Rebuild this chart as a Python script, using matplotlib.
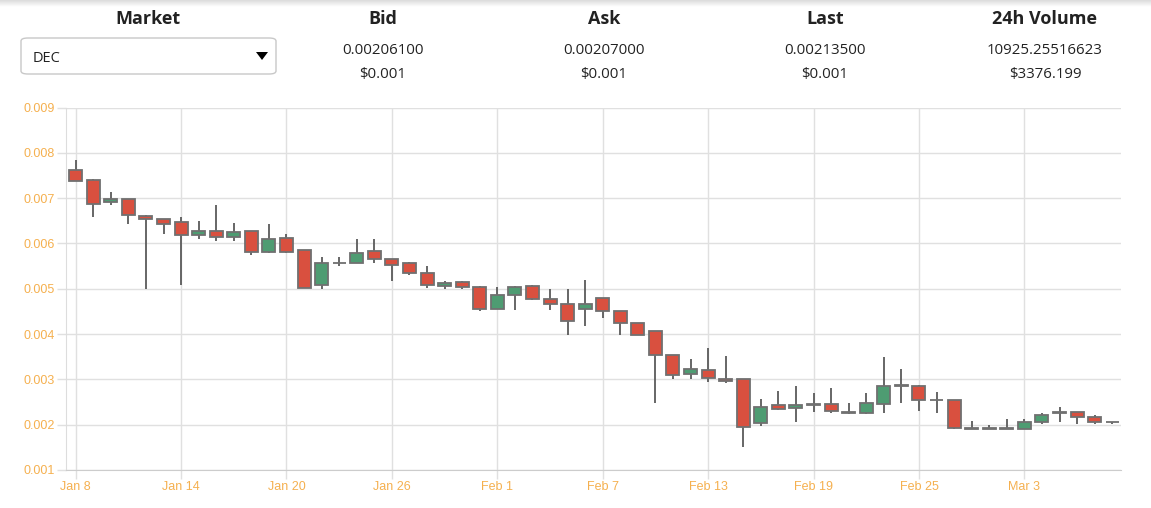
import numpy as np
import pandas as pd
import matplotlib
matplotlib.use('Agg')
import matplotlib.pyplot as plt
from matplotlib.patches import FancyBboxPatch, Polygon

# daily candles, Jan 8 .. Mar 8
start_day = '2018-01-08'
opens = [0.00763, 0.00740, 0.00692, 0.00698, 0.00661, 0.00654, 0.00647, 0.00618, 0.00628, 0.00615,
         0.00628, 0.00581, 0.00612, 0.00585, 0.00508, 0.00556, 0.00557, 0.00584, 0.00565, 0.00558,
         0.00534, 0.00507, 0.00514, 0.00504, 0.00456, 0.00486, 0.00506, 0.00478, 0.00467, 0.00456,
         0.00479, 0.00450, 0.00424, 0.00406, 0.00353, 0.00311, 0.00320, 0.00300, 0.00301, 0.00204,
         0.00243, 0.00237, 0.00243, 0.00246, 0.00229, 0.00225, 0.00246, 0.00286, 0.00286, 0.00255,
         0.00254, 0.00192, 0.00193, 0.00191, 0.00191, 0.00207, 0.00226, 0.00227, 0.00218, 0.00207]
closes = [0.00739, 0.00687, 0.00698, 0.00662, 0.00653, 0.00643, 0.00618, 0.00627, 0.00615, 0.00625,
          0.00581, 0.00610, 0.00581, 0.00502, 0.00557, 0.00557, 0.00580, 0.00565, 0.00553, 0.00534,
          0.00508, 0.00513, 0.00503, 0.00455, 0.00486, 0.00505, 0.00477, 0.00467, 0.00428, 0.00467,
          0.00451, 0.00424, 0.00397, 0.00354, 0.00310, 0.00322, 0.00303, 0.00297, 0.00194, 0.00239,
          0.00235, 0.00244, 0.00246, 0.00230, 0.00225, 0.00247, 0.00286, 0.00286, 0.00254, 0.00254,
          0.00192, 0.00191, 0.00190, 0.00193, 0.00207, 0.00221, 0.00226, 0.00217, 0.00205, 0.00205]
highs = [0.00784, 0.00742, 0.00713, 0.00698, 0.00662, 0.00655, 0.00659, 0.00650, 0.00684, 0.00645,
         0.00628, 0.00643, 0.00621, 0.00585, 0.00570, 0.00570, 0.00611, 0.00610, 0.00566, 0.00559,
         0.00550, 0.00518, 0.00518, 0.00507, 0.00505, 0.00506, 0.00509, 0.00500, 0.00500, 0.00520,
         0.00480, 0.00451, 0.00425, 0.00406, 0.00354, 0.00344, 0.00370, 0.00351, 0.00301, 0.00257,
         0.00275, 0.00286, 0.00269, 0.00280, 0.00249, 0.00270, 0.00350, 0.00324, 0.00287, 0.00272,
         0.00254, 0.00209, 0.00199, 0.00213, 0.00213, 0.00226, 0.00239, 0.00228, 0.00221, 0.00207]
lows = [0.00737, 0.00659, 0.00685, 0.00644, 0.00500, 0.00620, 0.00508, 0.00609, 0.00606, 0.00605,
        0.00575, 0.00580, 0.00580, 0.00501, 0.00500, 0.00550, 0.00556, 0.00558, 0.00518, 0.00530,
        0.00502, 0.00500, 0.00500, 0.00450, 0.00455, 0.00453, 0.00476, 0.00454, 0.00397, 0.00417,
        0.00436, 0.00397, 0.00397, 0.00247, 0.00300, 0.00300, 0.00295, 0.00292, 0.00150, 0.00197,
        0.00233, 0.00205, 0.00228, 0.00225, 0.00224, 0.00224, 0.00226, 0.00249, 0.00230, 0.00225,
        0.00190, 0.00190, 0.00190, 0.00190, 0.00190, 0.00201, 0.00207, 0.00201, 0.00201, 0.00202]

y_ticks = [0.001, 0.002, 0.003, 0.004, 0.005, 0.006, 0.007, 0.008, 0.009]

headers = ['Bid', 'Ask', 'Last', '24h Volume']
values = ['0.00206100', '0.00207000', '0.00213500', '10925.25516623']
usd_values = ['$0.001', '$0.001', '$0.001', '$3376.199']
market = 'DEC'

W, H = 1151, 508
fig = plt.figure(figsize=(W / 100, H / 100), dpi=100)
fig.patch.set_facecolor('white')

# top shadow
sh = fig.add_axes([0, 1 - 7 / H, 1, 7 / H])
sh.imshow(np.linspace(0.86, 1, 20).reshape(-1, 1), cmap='gray', vmin=0, vmax=1,
          aspect='auto', extent=[0, 1, 0, 1])
sh.axis('off')

# header
hfont = 'Open Sans'
fig.text(148 / W, 1 - 19.5 / H, 'Market', ha='center', va='center', fontsize=13,
         fontweight='bold', family=hfont, color='#222')
box = FancyBboxPatch((21 / W, 1 - 74 / H), 255 / W, 36 / H,
                     boxstyle='round,pad=0,rounding_size=0.006', transform=fig.transFigure,
                     facecolor='white', edgecolor='#c8c8c8', linewidth=1)
fig.patches.append(box)
fig.text(33 / W, 1 - 58 / H, market, ha='left', va='center', fontsize=10.5,
         family=hfont, color='#222')
tri = Polygon([[256 / W, 1 - 52 / H], [268 / W, 1 - 52 / H], [262 / W, 1 - 60 / H]],
              closed=True, transform=fig.transFigure, facecolor='black', edgecolor='none')
fig.patches.append(tri)

centers = [383, 604, 825, 1045]
for cx, hd, v, u in zip(centers, headers, values, usd_values):
    fig.text(cx / W, 1 - 19.5 / H, hd, ha='center', va='center', fontsize=13,
             fontweight='bold', family=hfont, color='#222')
    fig.text(cx / W, 1 - 50.5 / H, v, ha='center', va='center', fontsize=10.8,
             family=hfont, color='#222')
    fig.text(cx / W, 1 - 74.5 / H, u, ha='center', va='center', fontsize=10.8,
             family=hfont, color='#222')

# chart
left, right, top, bottom = 66, 1121, 107.6, 470
ax = fig.add_axes([left / W, (H - bottom) / H, (right - left) / W, (bottom - top) / H])
ax.set_facecolor('none')

n = len(opens)
x = np.arange(n)
o = np.array(opens)
c = np.array(closes)
hi = np.array(highs)
lo = np.array(lows)
up = c >= o
red, green = '#d9503f', '#4e9c72'
colors = np.where(up, green, red)

ax.vlines(x, lo, hi, color='#5a5a5a', linewidth=1.3, zorder=2)
body_bottom = np.minimum(o, c)
body_h = np.maximum(np.abs(c - o), 0.000015)
ax.bar(x, body_h, bottom=body_bottom, width=0.74, color=colors,
       edgecolor='#707070', linewidth=1.3, zorder=3)

ax.set_xlim(-0.55, n - 0.5)
ax.set_ylim(0.001, 0.009)
ax.set_yticks(y_ticks)
ax.set_yticklabels(['%.3f' % v for v in y_ticks])

dates = pd.date_range(start_day, periods=n, freq='D')
xt = list(range(0, n, 6))
ax.set_xticks(xt)
ax.set_xticklabels([dates[i].strftime('%b ') + str(dates[i].day) for i in xt])

ax.grid(True, color='#e0e0e0', linewidth=1, zorder=0)
ax.set_axisbelow(True)
for s in ['top', 'right']:
    ax.spines[s].set_visible(False)
ax.spines['left'].set_color('#dddddd')
ax.spines['bottom'].set_color('#cccccc')
ax.tick_params(axis='both', colors='#e0e0e0', length=6.5, width=1,
               labelcolor='#f5b04f', labelsize=9, pad=1.5)
for lab in ax.get_xticklabels() + ax.get_yticklabels():
    lab.set_family('Liberation Sans')

fig.savefig('out.png', dpi=100)
